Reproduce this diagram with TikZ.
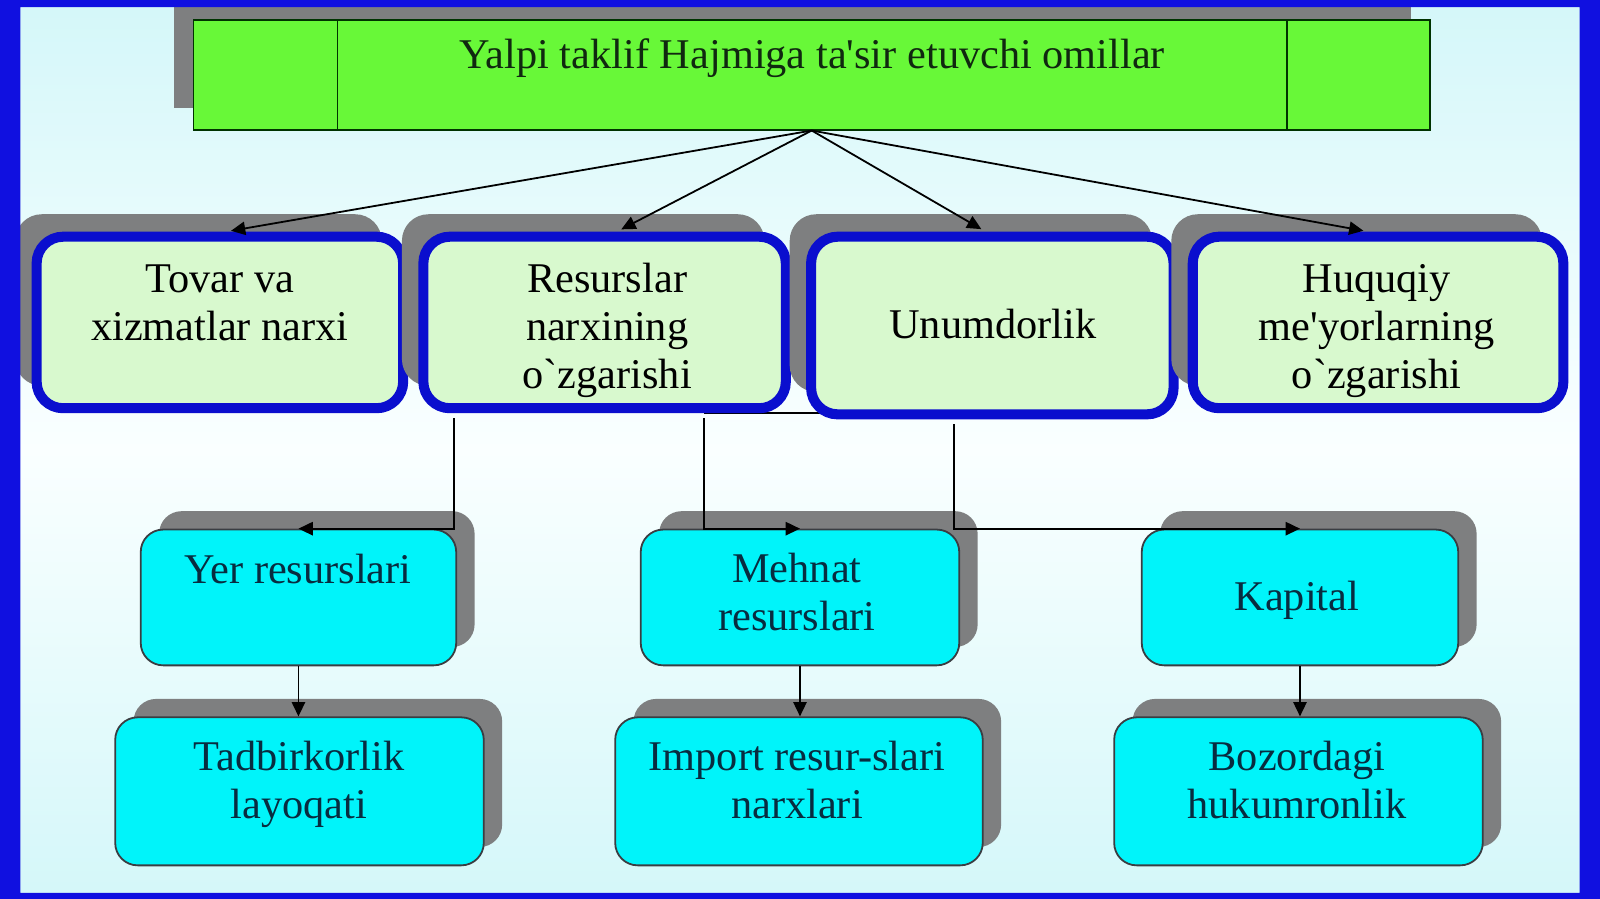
\documentclass[tikz,border=0pt]{standalone}
\usepackage{fontspec}
\setmainfont{Liberation Serif}
\usetikzlibrary{shadows,arrows.meta,calc}
\definecolor{frameblue}{RGB}{16,16,224}
\definecolor{bgmid}{RGB}{250,255,255}
\definecolor{bgedge}{RGB}{212,247,249}
\definecolor{titlegreen}{RGB}{104,248,56}
\definecolor{palegreen}{RGB}{216,249,206}
\definecolor{ltwoblue}{RGB}{10,14,206}
\definecolor{cyanbox}{RGB}{0,244,250}
\definecolor{shadowgray}{RGB}{126,127,128}
\definecolor{titletext}{RGB}{16,40,16}
\definecolor{lthreetext}{RGB}{8,44,64}
\pgfdeclarelayer{back}\pgfdeclarelayer{bg}\pgfdeclarelayer{front}
\pgfsetlayers{back,bg,main,front}
\tikzset{
 titlebox/.style={draw=black!80!green, line width=0.5pt, fill=titlegreen, inner sep=0pt,
   drop shadow={shadow xshift=-1.9mm, shadow yshift=2.1mm, opacity=1, fill=shadowgray, draw=none}},
 lvtwo/.style={draw=ltwoblue, line width=2.8pt, fill=palegreen, rounded corners=2.6mm, inner sep=0pt,
   drop shadow={shadow xshift=-2.1mm, shadow yshift=2.2mm, opacity=1, fill=shadowgray, draw=none}},
 lvthree/.style={draw=black!85!cyan, line width=0.5pt, fill=cyanbox, rounded corners=2.2mm, inner sep=0pt,
   drop shadow={shadow xshift=1.8mm, shadow yshift=1.8mm, opacity=1, fill=shadowgray, draw=none}},
 txt/.style={align=center, inner sep=0pt, font=\fontsize{11.8pt}{13.4pt}\selectfont},
 conn/.style={line width=0.5pt, draw=black},
 arr/.style={conn, -{Triangle[length=1.4mm,width=1.3mm]}},
}
\begin{document}
\begin{tikzpicture}[x=0.01cm, y=-0.01cm]
\useasboundingbox (0,0) rectangle (1568,881);
\begin{pgfonlayer}{back}
\shade[top color=bgedge, bottom color=bgedge, middle color=bgmid] (0,0) rectangle (1568,881);
\end{pgfonlayer}

% title
\node[titlebox, minimum width=12.11cm, minimum height=1.07cm] (title) at (795.5,73.5) {};
\draw[conn, draw=black!80!green] ($(title.north west)+(142,0)$) -- ($(title.south west)+(142,0)$);
\draw[conn, draw=black!80!green] ($(title.north east)+(-141,0)$) -- ($(title.south east)+(-141,0)$);
\node[txt, text=titletext] (ttext) at (796,57.6) {\strut Yalpi taklif Hajmiga ta\textquotesingle sir etuvchi omillar\strut};

% level two
\node[lvtwo, minimum width=3.59cm, minimum height=1.68cm] (b1) at (215.5,316) {};
\node[lvtwo, minimum width=3.55cm, minimum height=1.68cm] (b2) at (592.5,316) {};
\node[lvtwo, minimum width=3.55cm, minimum height=1.74cm] (b3) at (972.5,319) {};
\node[lvtwo, minimum width=3.63cm, minimum height=1.68cm] (b4) at (1350.5,316) {};
\node[txt] (t1) at (215.5,301) {\strut Tovar va\\xizmatlar narxi\strut};
\node[txt] (t2) at (595,324.6) {\strut Resurslar\\narxining\\o\textasciigrave zgarishi\strut};
\node[txt] (t3) at (973,322.6) {\strut Unumdorlik\strut};
\node[txt] (t4) at (1349,324.6) {\strut Huquqiy\\me\textquotesingle yorlarning\\o\textasciigrave zgarishi\strut};

% level three and four
\node[lvthree, minimum width=3.09cm, minimum height=1.33cm] (yer) at (292.5,585.5) {};
\node[lvthree, minimum width=3.12cm, minimum height=1.33cm] (meh) at (784,585.5) {};
\node[lvthree, minimum width=3.10cm, minimum height=1.33cm] (kap) at (1274,585.5) {};
\node[lvthree, minimum width=3.61cm, minimum height=1.45cm] (tad) at (293.5,775.5) {};
\node[lvthree, minimum width=3.60cm, minimum height=1.45cm] (imp) at (783,775.5) {};
\node[lvthree, minimum width=3.61cm, minimum height=1.45cm] (boz) at (1272.5,775.5) {};
\node[txt, text=lthreetext] (tyer) at (292,562) {\strut Yer resurslari\strut};
\node[txt, text=lthreetext] (tmeh) at (781,585) {\strut Mehnat\\resurslari\strut};
\node[txt, text=lthreetext] (tkap) at (1271,588.6) {\strut Kapital\strut};
\node[txt, text=lthreetext] (ttad) at (293,769) {\strut Tadbirkorlik\\layoqati\strut};
\node[txt, text=lthreetext] (timp) at (781,769) {\strut Import resur-slari\\narxlari\strut};
\node[txt, text=lthreetext] (tboz) at (1271,769) {\strut Bozordagi\\hukumronlik\strut};

% connectors
\coordinate (k1) at (445,0);
\coordinate (k2) at (690,0);
\coordinate (k3) at (935,0);
\coordinate (k4) at (0,405);
\begin{pgfonlayer}{bg}
\draw[conn] (k2 |- k4) -- (k3 |- k4);
\end{pgfonlayer}
\draw[arr, shorten >=1.4pt] (title.south) -- ([xshift=0.6mm]b1.north);
\draw[arr, shorten >=1.4pt] (title.south) -- ([xshift=1.2mm]b2.north);
\draw[arr, shorten >=1.4pt] (title.south) -- ([xshift=-0.65mm]b3.north);
\draw[arr, shorten >=1.4pt] (title.south) -- ([xshift=-0.95mm]b4.north);
\draw[arr, shorten <=1.4pt] (b2.south -| k1) |- (yer.north);
\draw[arr, shorten <=1.4pt] (b2.south -| k2) |- (meh.north);
\draw[arr, shorten <=1.4pt] (b3.south -| k3) |- (kap.north);
\draw[arr] (yer.south) -- (yer.south |- tad.north);
\draw[arr] (meh.south) -- (meh.south |- imp.north);
\draw[arr] (kap.south) -- (kap.south |- boz.north);

\begin{pgfonlayer}{front}
\fill[frameblue, even odd rule] (0,0) rectangle (1568,881) (20,7) rectangle (1548,875);
\end{pgfonlayer}
\end{tikzpicture}
\end{document}
